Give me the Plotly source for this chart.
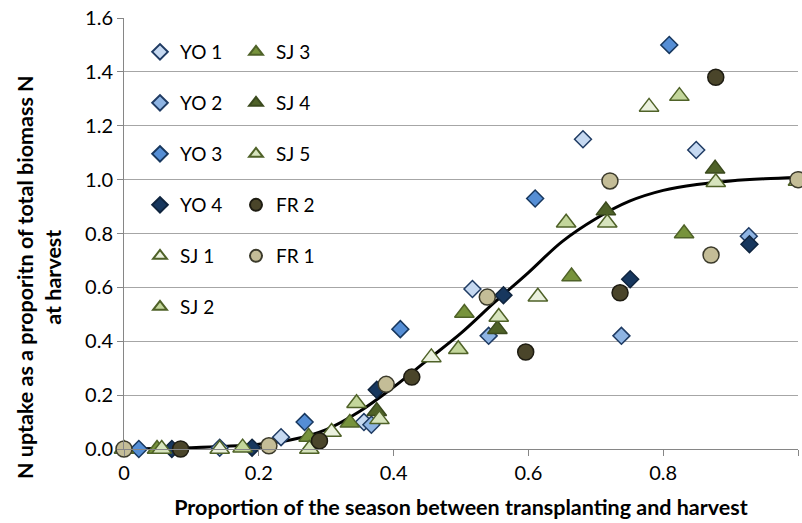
import plotly.graph_objects as go

# Proportion of season (x) and N uptake as proportion of harvest N (y) per site
yo1_x = [0.142, 0.233, 0.356, 0.517, 0.681, 0.849]
yo1_y = [0.005, 0.044, 0.100, 0.594, 1.150, 1.110]
yo2_x = [0.367, 0.541, 0.738, 0.927]
yo2_y = [0.090, 0.420, 0.420, 0.790]
yo3_x = [0.022, 0.268, 0.410, 0.610, 0.809]
yo3_y = [0.000, 0.100, 0.445, 0.930, 1.500]
yo4_x = [0.071, 0.190, 0.375, 0.563, 0.751, 0.928]
yo4_y = [0.000, 0.005, 0.220, 0.571, 0.630, 0.760]
sj1_x = [0.142, 0.308, 0.456, 0.614, 0.779]
sj1_y = [0.000, 0.063, 0.340, 0.565, 1.270]
sj2_x = [0.000, 0.176, 0.345, 0.496, 0.656, 0.824, 1.000]
sj2_y = [0.000, 0.005, 0.170, 0.370, 0.840, 1.310, 0.995]
sj3_x = [0.049, 0.274, 0.335, 0.505, 0.664, 0.831]
sj3_y = [0.000, 0.045, 0.097, 0.505, 0.640, 0.800]
sj4_x = [0.375, 0.554, 0.715, 0.877]
sj4_y = [0.140, 0.445, 0.885, 1.040]
sj5_x = [0.056, 0.275, 0.379, 0.556, 0.717, 0.878]
sj5_y = [0.000, 0.000, 0.110, 0.490, 0.840, 0.990]
fr2_x = [0.084, 0.290, 0.427, 0.596, 0.736, 0.878]
fr2_y = [0.000, 0.030, 0.267, 0.360, 0.580, 1.380]
fr1_x = [0.000, 0.215, 0.389, 0.539, 0.721, 0.871, 1.000]
fr1_y = [0.000, 0.012, 0.240, 0.564, 0.995, 0.720, 1.000]

# Fitted uptake curve
fit_x = [0.00, 0.05, 0.10, 0.15, 0.20, 0.25, 0.30, 0.35, 0.40, 0.45, 0.50,
         0.55, 0.60, 0.65, 0.70, 0.75, 0.80, 0.85, 0.90, 0.95, 1.00]
fit_y = [0.000, 0.002, 0.005, 0.010, 0.018, 0.035, 0.072, 0.140, 0.230, 0.330, 0.430,
         0.545, 0.655, 0.770, 0.855, 0.920, 0.960, 0.982, 0.995, 1.003, 1.008]

x_ticks = [0, 0.2, 0.4, 0.6, 0.8, 1.0]
x_tick_text = ["0", "0.2", "0.4", "0.6", "0.8", "1"]
y_ticks = [0, 0.2, 0.4, 0.6, 0.8, 1.0, 1.2, 1.4, 1.6]
y_tick_text = ["0.0", "0.2", "0.4", "0.6", "0.8", "1.0", "1.2", "1.4", "1.6"]

FONT = "Lato"
W, H = 802, 523
L, R, T, B = 124, 4, 18, 74

series = [
    # name, x, y, symbol, size, fill, edge, legend column, legend row
    ("YO 1", yo1_x, yo1_y, "diamond", 13, "#C6D9F1", "#1F3B63", 0, 0),
    ("YO 2", yo2_x, yo2_y, "diamond", 13, "#8EB4E3", "#1F3B63", 0, 1),
    ("YO 3", yo3_x, yo3_y, "diamond", 13, "#558ED5", "#17375E", 0, 2),
    ("YO 4", yo4_x, yo4_y, "diamond", 13, "#17375E", "#0F243E", 0, 3),
    ("SJ 1", sj1_x, sj1_y, "triangle-up", 17, "#EBF1DE", "#4F6228", 0, 4),
    ("SJ 2", sj2_x, sj2_y, "triangle-up", 17, "#C3D69B", "#4F6228", 0, 5),
    ("SJ 3", sj3_x, sj3_y, "triangle-up", 17, "#77933C", "#4F6228", 1, 0),
    ("SJ 4", sj4_x, sj4_y, "triangle-up", 17, "#4F6228", "#3B4A1E", 1, 1),
    ("SJ 5", sj5_x, sj5_y, "triangle-up", 17, "#D7E4BD", "#4F6228", 1, 2),
    ("FR 2", fr2_x, fr2_y, "circle", 16, "#4A452A", "#1E1C12", 1, 3),
    ("FR 1", fr1_x, fr1_y, "circle", 16, "#C4BD97", "#3B3A2B", 1, 4),
]

fig = go.Figure()

fig.add_trace(go.Scatter(
    x=fit_x, y=fit_y, mode="lines", line=dict(color="black", width=3, shape="spline"),
    showlegend=False, hoverinfo="skip", cliponaxis=False,
))

plot_w = W - L - R
plot_h = H - T - B
legend_layouts = {}
for i, (name, xs, ys, sym, size, fill, edge, col, row) in enumerate(series):
    key = "legend" if i == 0 else f"legend{i + 1}"
    fig.add_trace(go.Scatter(
        x=xs, y=ys, mode="markers", name=name, legend=key, cliponaxis=False,
        marker=dict(symbol=sym, size=size, color=fill, line=dict(color=edge, width=1.5)),
    ))
    left_px = [140, 236][col]
    mid_px = 52 + 51 * row
    legend_layouts[key] = dict(
        x=(left_px - L) / plot_w, y=(H - B - mid_px) / plot_h,
        xanchor="left", yanchor="middle", bgcolor="rgba(0,0,0,0)",
        font=dict(family=FONT, size=19, color="#000000"), itemsizing="constant",
    )

fig.update_layout(
    width=W, height=H, margin=dict(l=L, r=R, t=T, b=B),
    paper_bgcolor="white", plot_bgcolor="white",
    font=dict(family=FONT, color="#000000"),
    **legend_layouts,
)

fig.update_xaxes(
    range=[0, 1], tickvals=x_ticks, ticktext=x_tick_text,
    showgrid=False, zeroline=False, showline=True, linecolor="#868686", linewidth=1,
    ticks="outside", ticklen=6, tickcolor="#868686",
    tickfont=dict(family=FONT, size=20, color="#000000"),
    title=dict(text="<b>Proportion of the season between transplanting and harvest</b>",
               font=dict(family=FONT, size=21.5), standoff=16),
)
fig.update_yaxes(
    range=[0, 1.6], tickvals=y_ticks, ticktext=y_tick_text,
    showgrid=True, gridcolor="#A6A6A6", gridwidth=1,
    zeroline=False, showline=True, linecolor="#868686", linewidth=1,
    ticks="outside", ticklen=6, tickcolor="#868686",
    tickfont=dict(family=FONT, size=20, color="#000000"),
)

fig.add_annotation(
    text="<b>N uptake as a proporitn of total biomass N<br>at harvest</b>",
    textangle=-90, xref="paper", yref="paper",
    x=(39 - L) / plot_w, y=(H - B - 277) / plot_h, xanchor="center", yanchor="middle",
    showarrow=False, font=dict(family=FONT, size=21.5, color="#000000"),
)

fig.write_html("out.html")
